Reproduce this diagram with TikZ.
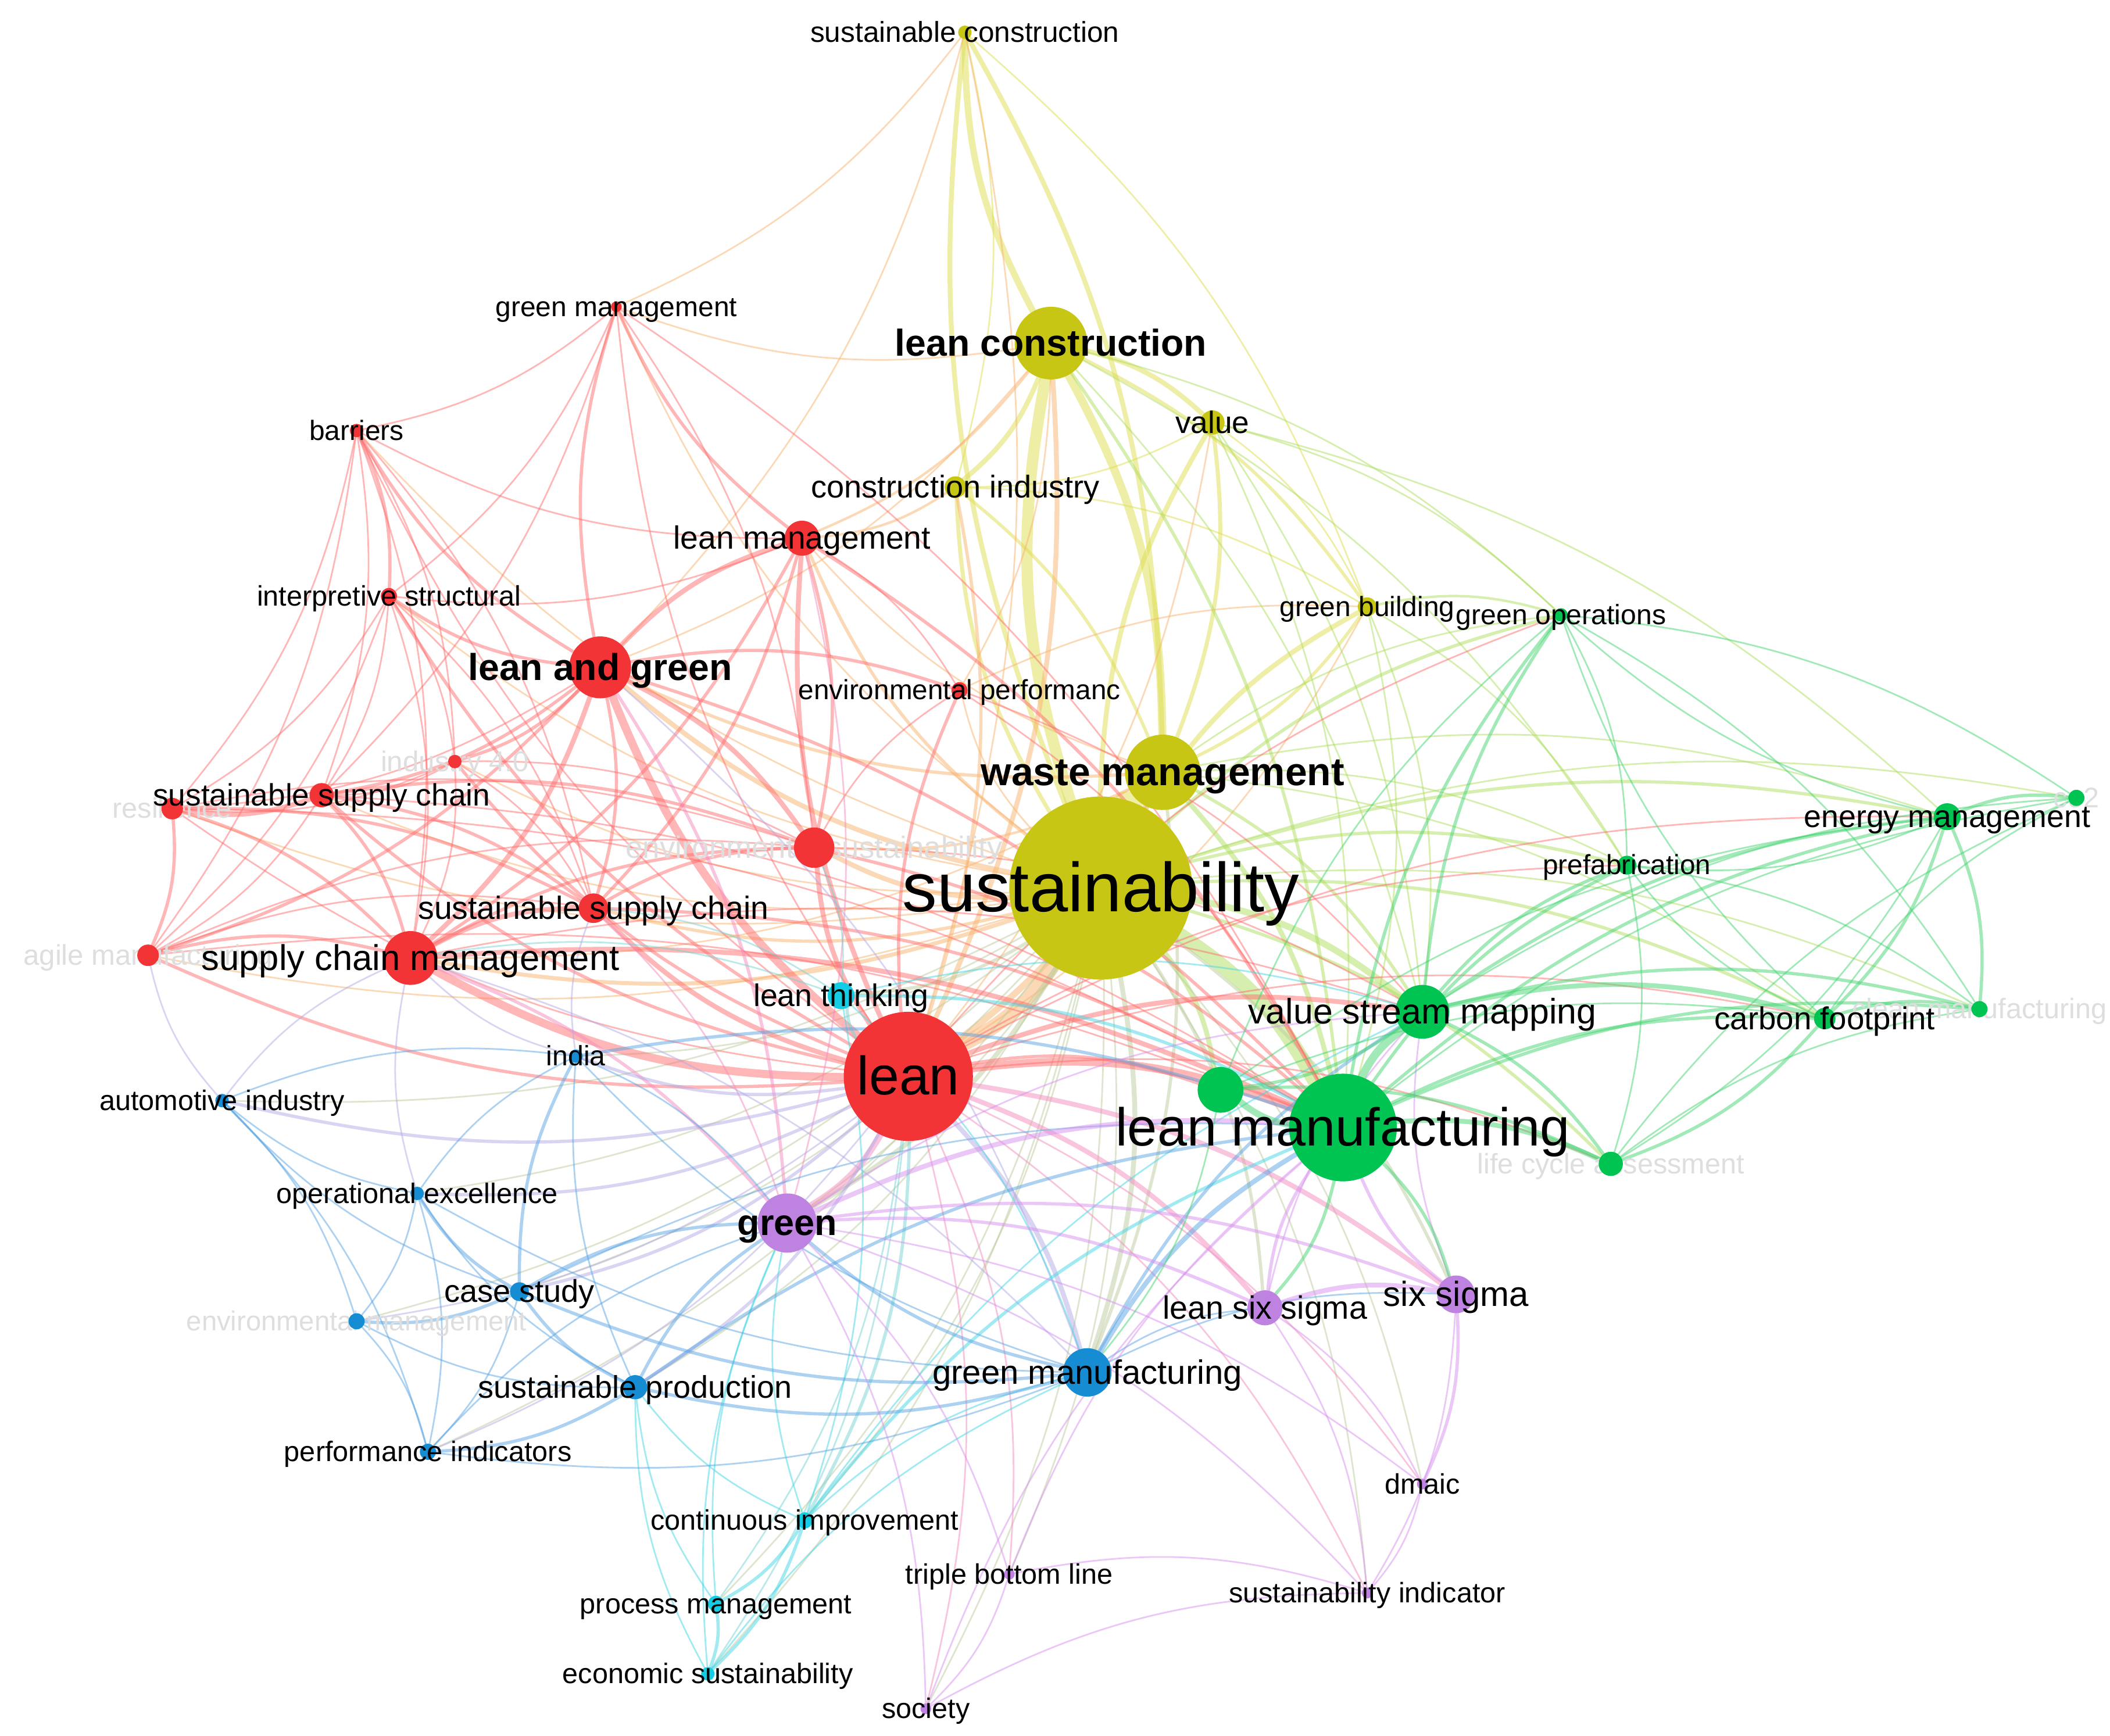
\documentclass[tikz,border=0pt]{standalone}
\usepackage{fontspec}
\setmainfont{Liberation Sans}
\usetikzlibrary{backgrounds}
\newcommand\kfs[1]{\fontsize{#1}{#1}\selectfont}
\definecolor{ycol}{RGB}{200,198,20}
\definecolor{rcol}{RGB}{242,52,55}
\definecolor{ccol}{RGB}{20,205,228}
\definecolor{bcol}{RGB}{22,140,210}
\definecolor{pcol}{RGB}{190,130,225}
\definecolor{gcol}{RGB}{0,196,82}
\definecolor{eY}{RGB}{222,222,80}
\definecolor{eYR}{RGB}{250,180,110}
\definecolor{eYG}{RGB}{175,222,95}
\definecolor{eYO}{RGB}{190,205,160}
\definecolor{eR}{RGB}{255,110,110}
\definecolor{eRP}{RGB}{245,140,190}
\definecolor{eRB}{RGB}{180,170,230}
\definecolor{eRC}{RGB}{120,210,210}
\definecolor{eC}{RGB}{70,215,230}
\definecolor{eB}{RGB}{90,165,228}
\definecolor{eP}{RGB}{215,145,238}
\definecolor{eG}{RGB}{70,212,115}
\definecolor{faintc}{RGB}{222,222,222}
\tikzset{
  dot/.style={circle, fill=#1, draw=none, inner sep=0pt},
  lbl/.style={anchor=base, inner sep=0pt, text=black, font=\kfs{#1}, yshift=-0.34*#1pt},
  blbl/.style={lbl=#1, font=\bfseries\kfs{#1}},
  flbl/.style={lbl=#1, text=faintc},
  edge/.style={draw=#1, opacity=0.5, line cap=round},
}
\begin{document}
\begin{tikzpicture}[x=1pt,y=-1pt]
\useasboundingbox (0,0) rectangle (1568,1290);
% ---------------- faint labels (under the nodes) ----------------
\node[flbl=21] (res-l) at (128,601) {resilience};
\node[flbl=21.2] (agm-l) at (110,710) {agile manufacturing};
\node[flbl=21.3] (i40-l) at (338,566) {industry 4.0};
\node[flbl=22.8] (es-l) at (605,630) {environmental sustainability};
\node[flbl=20.4] (em-l) at (265,982) {environmental management};
\node[flbl=21] (lca-l) at (1197,865) {life cycle assessment};
\node[flbl=21] (clm-l) at (1471,750) {clean manufacturing};
\node[flbl=21] (co2-l) at (1543,593) {co2};
% ---------------- nodes ----------------
% yellow
\node[dot=ycol, minimum size=10pt] (sc) at (717,24) {};
\node[dot=ycol, minimum size=54pt] (lc) at (781,255) {};
\node[dot=ycol, minimum size=18pt] (val) at (901,314) {};
\node[dot=ycol, minimum size=16pt] (ci) at (710,362) {};
\node[dot=ycol, minimum size=14pt] (gb) at (1016,451) {};
\node[dot=ycol, minimum size=56pt] (wm) at (864,574) {};
\node[dot=ycol, minimum size=136pt] (sus) at (818,660) {};
% red
\node[dot=rcol, minimum size=8pt] (gm) at (458,228) {};
\node[dot=rcol, minimum size=10pt] (bar) at (265,320) {};
\node[dot=rcol, minimum size=26pt] (lm) at (596,400) {};
\node[dot=rcol, minimum size=12pt] (isr) at (289,443) {};
\node[dot=rcol, minimum size=46pt] (lag) at (446,496) {};
\node[dot=rcol, minimum size=12pt] (ep) at (713,513) {};
\node[dot=rcol, minimum size=10pt] (i40) at (338,566) {};
\node[dot=rcol, minimum size=18pt] (ssc1) at (239,591) {};
\node[dot=rcol, minimum size=16pt] (res) at (128,601) {};
\node[dot=rcol, minimum size=30pt] (es) at (605,630) {};
\node[dot=rcol, minimum size=22pt] (ssc2) at (441,675) {};
\node[dot=rcol, minimum size=16pt] (agm) at (110,710) {};
\node[dot=rcol, minimum size=40pt] (scm) at (305,712) {};
\node[dot=rcol, minimum size=96pt] (lean) at (675,800) {};
% cyan
\node[dot=ccol, minimum size=20pt] (lt) at (625,740) {};
\node[dot=ccol, minimum size=12pt] (cim) at (598,1130) {};
\node[dot=ccol, minimum size=12pt] (pm) at (532,1192) {};
\node[dot=ccol, minimum size=10pt] (ecs) at (526,1244) {};
% blue
\node[dot=bcol, minimum size=10pt] (ind) at (428,785) {};
\node[dot=bcol, minimum size=10pt] (ai) at (165,818) {};
\node[dot=bcol, minimum size=10pt] (oe) at (310,887) {};
\node[dot=bcol, minimum size=14pt] (cs) at (386,960) {};
\node[dot=bcol, minimum size=12pt] (em) at (265,982) {};
\node[dot=bcol, minimum size=18pt] (sp) at (472,1031) {};
\node[dot=bcol, minimum size=36pt] (gmf) at (808,1020) {};
\node[dot=bcol, minimum size=12pt] (pi) at (318,1079) {};
% purple
\node[dot=pcol, minimum size=44pt] (grn) at (585,909) {};
\node[dot=pcol, minimum size=26pt] (lss) at (940,972) {};
\node[dot=pcol, minimum size=28pt] (ss) at (1082,962) {};
\node[dot=pcol, minimum size=8pt] (dm) at (1057,1103) {};
\node[dot=pcol, minimum size=8pt] (si) at (1016,1184) {};
\node[dot=pcol, minimum size=8pt] (tbl) at (750,1170) {};
\node[dot=pcol, minimum size=8pt] (soc) at (688,1270) {};
% green
\node[dot=gcol, minimum size=10pt] (go) at (1160,457) {};
\node[dot=gcol, minimum size=20pt] (enm) at (1447,607) {};
\node[dot=gcol, minimum size=12pt] (co2) at (1543,593) {};
\node[dot=gcol, minimum size=14pt] (pf) at (1209,643) {};
\node[dot=gcol, minimum size=40pt] (vsm) at (1057,752) {};
\node[dot=gcol, minimum size=16pt] (cf) at (1356,757) {};
\node[dot=gcol, minimum size=12pt] (clm) at (1471,750) {};
\node[dot=gcol, minimum size=18pt] (lca) at (1197,865) {};
\node[dot=gcol, minimum size=34pt] (gx) at (907,810) {};
\node[dot=gcol, minimum size=80pt] (lmf) at (998,838) {};
% ---------------- edges ----------------
\begin{scope}[on background layer]
\fill[white] (0,0) rectangle (1568,1290);
\foreach \a/\b/\w in {sus/lc/7, sus/wm/9, sus/sc/3, sus/val/3, sus/ci/2.5, sus/gb/3, lc/sc/4, lc/val/3, lc/ci/3, lc/wm/5, lc/gb/2, sc/wm/3, sc/ci/1, sc/gb/1, val/wm/2.5, val/ci/1, val/gb/1, ci/wm/2, ci/gb/1, gb/wm/2}
  \draw[edge=eY, line width=\w*1.2pt] (\a) to[bend left=14] (\b);
\foreach \a/\b/\w in {sus/lean/9, sus/lag/3, sus/lm/2, sus/es/3, sus/ssc2/2, sus/scm/2.5, sus/ep/1, sus/ssc1/1, sus/i40/1, sus/gm/1, sus/bar/1, sus/isr/1, sus/agm/1, sus/res/1, lc/lean/3, lc/lm/1.5, lc/lag/1, lc/ep/1, sc/lean/1, sc/gm/1, sc/lag/1, val/lean/1, ci/lean/2, ci/lm/1.5, gb/lean/1, wm/lean/4, wm/lag/2, wm/lm/1, wm/es/1.5, wm/scm/1, ep/gb/1, lc/gm/1}
  \draw[edge=eYR, line width=\w*1.2pt] (\a) to[bend left=14] (\b);
\foreach \a/\b/\w in {sus/lmf/9, sus/vsm/4, sus/go/2, sus/pf/2, sus/enm/2, sus/cf/2, sus/lca/2, sus/gx/3, sus/co2/1, sus/clm/1, lc/lmf/2, lc/go/1, lc/pf/1, lc/vsm/1, val/lmf/1, val/vsm/1, gb/go/1.5, gb/lmf/1, gb/pf/1, gb/vsm/1, wm/lmf/3, wm/vsm/2, wm/go/1, wm/pf/1, wm/enm/1, wm/cf/1, val/go/1, val/enm/1}
  \draw[edge=eYG, line width=\w*1.2pt] (\a) to[bend left=14] (\b);
\foreach \a/\b/\w in {sus/gmf/3, sus/grn/3, sus/lt/2, sus/lss/2, sus/ss/2, sus/ind/1, sus/cs/1, sus/sp/1, sus/cim/1, sus/tbl/1, sus/si/1, sus/oe/1, sus/ai/1, sus/dm/1, sus/soc/1, sus/pm/1, sus/ecs/1, sus/pi/1, sus/em/1, wm/gmf/2, wm/grn/1}
  \draw[edge=eYO, line width=\w*1.2pt] (\a) to[bend left=14] (\b);
\foreach \a/\b/\w in {lean/lag/5, lean/lm/3, lean/scm/5, lean/ssc2/3, lean/ssc1/2, lean/es/3, lean/ep/2, lean/gm/1, lean/bar/1, lean/isr/2, lean/i40/2, lean/res/1, lean/agm/2, lag/lm/3, lag/gm/2, lag/bar/2, lag/isr/2, lag/i40/2, lag/ssc1/2, lag/es/3, lag/ssc2/2, lag/scm/3, lag/res/1, lag/agm/2, lag/ep/2, lm/gm/2, lm/bar/1, lm/isr/1, lm/es/2, lm/ep/1, lm/ssc2/2, lm/scm/2, gm/bar/1, gm/isr/1, gm/ssc1/1, gm/es/1, bar/isr/2, bar/ssc1/1, bar/res/1, bar/scm/1, bar/i40/1, bar/agm/1, bar/ssc2/1, isr/i40/1, isr/ssc1/1, isr/res/1, isr/scm/1, isr/agm/1, isr/ssc2/1, i40/ssc1/1, i40/ssc2/1, i40/scm/1, i40/es/1, i40/res/1, ssc1/res/3, ssc1/scm/2, ssc1/ssc2/2, ssc1/agm/1, ssc1/es/2, res/agm/2, res/scm/2, res/ssc2/2, res/es/1, agm/scm/2, agm/ssc2/1, agm/es/1, scm/ssc2/3, scm/es/2, ssc2/es/2, es/ep/1,
  lean/lmf/5, lean/vsm/3, lean/gx/2, lean/lca/1, lean/cf/1, lean/go/1, lean/enm/1, lean/pf/1, lag/lmf/2, lm/lmf/2, gm/lmf/1, ssc1/lmf/1, res/lmf/1, agm/lmf/1, scm/lmf/3, scm/vsm/1, ssc2/lmf/2, es/lmf/2, es/vsm/1, ep/lmf/1, ep/vsm/1}
  \draw[edge=eR, line width=\w*1.2pt] (\a) to[bend left=14] (\b);
\foreach \a/\b/\w in {lean/grn/4, lean/lss/3, lean/ss/3, lean/dm/1, lean/si/1, lean/tbl/1, lean/soc/1, lag/grn/2, lm/grn/1, scm/grn/2, ssc2/grn/1}
  \draw[edge=eRP, line width=\w*1.2pt] (\a) to[bend left=14] (\b);
\foreach \a/\b/\w in {lean/gmf/3, lean/ind/2, lean/ai/2, lean/oe/2, lean/cs/2, lean/sp/2, lean/em/1, lean/pi/1, lag/gmf/1, scm/gmf/1, oe/scm/1, ai/scm/1, ai/agm/1, ind/scm/1, ind/ssc2/1}
  \draw[edge=eRB, line width=\w*1.2pt] (\a) to[bend left=14] (\b);
\foreach \a/\b/\w in {lean/lt/2, lean/cim/2, lean/pm/1, lean/ecs/1, scm/lt/1, ssc2/lt/1, es/lt/1}
  \draw[edge=eRC, line width=\w*1.2pt] (\a) to[bend left=14] (\b);
\foreach \a/\b/\w in {lt/lmf/2, lt/cim/1, lt/vsm/1, lt/gmf/1, cim/pm/2, cim/ecs/2, cim/sp/1, cim/gmf/1, cim/lmf/2, cim/grn/1, cim/vsm/1, pm/ecs/2, pm/sp/1, pm/grn/1, ecs/sp/1, ecs/grn/1, ecs/gmf/1}
  \draw[edge=eC, line width=\w*1.2pt] (\a) to[bend left=14] (\b);
\foreach \a/\b/\w in {gmf/lmf/3, gmf/grn/2, gmf/sp/2, gmf/cs/2, gmf/lss/1, gmf/ss/1, gmf/vsm/2, gmf/oe/1, gmf/pi/1, gmf/ind/1, sp/cs/2, sp/oe/1, sp/pi/2, sp/em/1, sp/grn/2, sp/lmf/2, sp/ind/1, cs/oe/2, cs/em/2, cs/ind/2, cs/ai/1, cs/pi/1, cs/grn/2, cs/lmf/1, oe/ai/1, oe/em/1, oe/ind/1, oe/pi/1, ai/em/1, ai/pi/1, ai/ind/1, ind/lmf/2, ind/grn/1, em/pi/1, pi/grn/1}
  \draw[edge=eB, line width=\w*1.2pt] (\a) to[bend left=14] (\b);
\foreach \a/\b/\w in {grn/lmf/3, grn/lss/2, grn/ss/2, grn/tbl/1, grn/soc/1, grn/si/1, grn/dm/1, grn/vsm/1, lss/ss/3, lss/lmf/2, lss/dm/1, lss/si/1, lss/vsm/1, ss/dm/2, ss/si/1, ss/lmf/2, ss/vsm/1, tbl/soc/1, tbl/si/1, tbl/lmf/1, soc/si/1, soc/lmf/1, dm/si/1}
  \draw[edge=eP, line width=\w*1.2pt] (\a) to[bend left=14] (\b);
\foreach \a/\b/\w in {lmf/vsm/5, lmf/gx/4, lmf/lca/3, lmf/cf/2, lmf/enm/2, lmf/go/2, lmf/pf/2, lmf/clm/2, lmf/co2/1, vsm/gx/2, vsm/enm/2, vsm/cf/3, vsm/pf/2, vsm/go/2, vsm/lca/2, vsm/clm/2, vsm/co2/1, gx/lca/2, gx/cf/1, gx/enm/1, gx/go/1, enm/co2/2, enm/cf/2, enm/clm/2, enm/pf/1, enm/go/1, enm/lca/1, cf/clm/2, cf/co2/1, cf/pf/1, cf/lca/2, cf/go/1, go/pf/1, go/clm/1, go/co2/1, pf/lca/1, pf/clm/1, lca/clm/1, lca/co2/1, lmf/lss/2, lmf/ss/2, gx/gmf/1}
  \draw[edge=eG, line width=\w*1.2pt] (\a) to[bend left=14] (\b);
\end{scope}
% ---------------- labels ----------------
\node[lbl=21.4] (sc-l) at (sc) {sustainable construction};
\node[blbl=27.8] (lc-l) at (lc) {lean construction};
\node[lbl=23] (val-l) at (val) {value};
\node[lbl=23.4] (ci-l) at (ci) {construction industry};
\node[lbl=20.7] (gb-l) at (gb) {green building};
\node[blbl=29.3] (wm-l) at (wm) {waste management};
\node[lbl=51.5] (sus-l) at (sus) {sustainability};
\node[lbl=20.7] (gm-l) at (gm) {green management};
\node[lbl=20.7] (bar-l) at (bar) {barriers};
\node[lbl=23.9] (lm-l) at (lm) {lean management};
\node[lbl=21] (isr-l) at (isr) {interpretive structural};
\node[blbl=27.8] (lag-l) at (lag) {lean and green};
\node[lbl=20.6] (ep-l) at (ep) {environmental performanc};
\node[lbl=23] (ssc1-l) at (ssc1) {sustainable supply chain};
\node[lbl=23.9] (ssc2-l) at (ssc2) {sustainable supply chain};
\node[lbl=26.6] (scm-l) at (scm) {supply chain management};
\node[lbl=40.2] (lean-l) at (lean) {lean};
\node[lbl=23.2] (lt-l) at (lt) {lean thinking};
\node[lbl=21] (cim-l) at (cim) {continuous improvement};
\node[lbl=21] (pm-l) at (pm) {process management};
\node[lbl=21] (ecs-l) at (ecs) {economic sustainability};
\node[lbl=20.8] (ind-l) at (ind) {india};
\node[lbl=21] (ai-l) at (ai) {automotive industry};
\node[lbl=21] (oe-l) at (oe) {operational excellence};
\node[lbl=23.4] (cs-l) at (cs) {case study};
\node[lbl=23.3] (sp-l) at (sp) {sustainable production};
\node[lbl=25.1] (gmf-l) at (gmf) {green manufacturing};
\node[lbl=21] (pi-l) at (pi) {performance indicators};
\node[blbl=27.2] (grn-l) at (grn) {green};
\node[lbl=24] (lss-l) at (lss) {lean six sigma};
\node[lbl=25.9] (ss-l) at (ss) {six sigma};
\node[lbl=21] (dm-l) at (dm) {dmaic};
\node[lbl=21] (si-l) at (si) {sustainability indicator};
\node[lbl=21] (tbl-l) at (tbl) {triple bottom line};
\node[lbl=21] (soc-l) at (soc) {society};
\node[lbl=20.8] (go-l) at (go) {green operations};
\node[lbl=23.2] (enm-l) at (enm) {energy management};
\node[lbl=20.6] (pf-l) at (pf) {prefabrication};
\node[lbl=26.3] (vsm-l) at (vsm) {value stream mapping};
\node[lbl=23.6] (cf-l) at (cf) {carbon footprint};
\node[lbl=39.7] (lmf-l) at (lmf) {lean manufacturing};
\end{tikzpicture}
\end{document}
